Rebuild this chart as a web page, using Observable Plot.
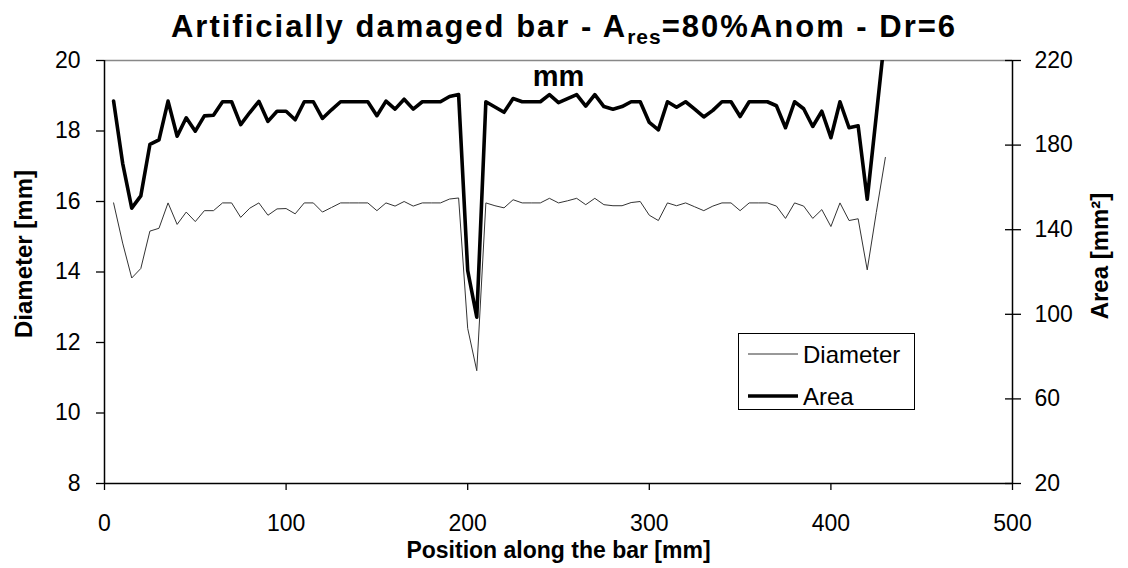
<!DOCTYPE html>
<html><head><meta charset="utf-8">
<script src="https://cdn.jsdelivr.net/npm/d3@7"></script>
<script src="https://cdn.jsdelivr.net/npm/@observablehq/plot@0.6"></script>
<style>
body{margin:0;background:#fff;font-family:"Liberation Sans",Arial,sans-serif;}
#wrap{position:relative;width:1128px;height:568px;overflow:hidden;}
#title{height:44px;line-height:54px;text-align:center;font-weight:bold;font-size:31px;letter-spacing:2px;font-family:"Liberation Sans Narrow","Liberation Sans",Arial,sans-serif;white-space:nowrap;}
#title sub{font-size:21px;vertical-align:-7px;line-height:0;letter-spacing:1px;}
#legend{position:absolute;left:738px;top:333px;width:177px;height:77px;border:1.5px solid #000;background:#fff;box-sizing:border-box;}
#legend svg{position:absolute;left:0;top:0;}
</style></head>
<body>
<div id="wrap">
<div id="title">Artificially damaged bar - A<sub>res</sub>=80%Anom - Dr=6</div>
<div id="chart"></div>
<div id="legend"></div>
</div>
<script>
const position = [5,10,15,20,25,30,35,40,45,50,55,60,65,70,75,80,85,90,95,100,
105,110,115,120,125,130,135,140,145,150,155,160,165,170,175,180,185,190,195,200,
205,210,215,220,225,230,235,240,245,250,255,260,265,270,275,280,285,290,295,300,
305,310,315,320,325,330,335,340,345,350,355,360,365,370,375,380,385,390,395,400,
405,410,415,420,425,430];
const diameter = [15.96,14.82,13.83,14.10,15.16,15.24,15.96,15.35,15.70,15.43,15.74,15.74,15.96,15.96,15.55,15.81,15.96,15.61,15.79,15.80,
15.65,15.96,15.96,15.70,15.83,15.96,15.96,15.96,15.96,15.74,15.96,15.87,16.00,15.87,15.96,15.96,15.96,16.07,16.10,12.40,
11.20,15.96,15.88,15.82,16.05,15.96,15.96,15.96,16.09,15.96,16.02,16.09,15.91,16.09,15.91,15.88,15.88,15.97,16.00,15.61,
15.46,15.96,15.88,15.96,15.85,15.74,15.87,15.96,15.96,15.74,15.96,15.96,15.96,15.87,15.52,15.96,15.87,15.52,15.77,15.29,
15.96,15.46,15.51,14.06,15.69,17.25];
const area = [200.8,171.4,150.2,156.0,180.3,182.5,200.8,184.2,192.9,186.6,193.8,194.1,200.5,200.5,189.7,195.4,200.7,191.2,196.0,196.0,
192.0,200.5,200.5,192.6,196.7,200.5,200.5,200.5,200.5,193.9,200.8,197.0,201.7,197.0,200.5,200.5,200.5,203.0,203.9,120.7,
98.6,200.5,198.0,195.5,202.0,200.5,200.5,200.5,203.9,200.1,202.0,203.9,198.4,203.9,198.2,197.0,198.2,200.5,200.5,190.7,
187.2,200.5,197.9,200.5,197.0,193.3,196.4,200.5,200.5,193.5,200.5,200.5,200.5,198.6,188.2,200.5,197.2,188.8,196.0,183.5,
200.5,188.2,189.1,154.4,194.0,234.0];
const xTicks = [0,100,200,300,400,500];
const diameterTicks = [8,10,12,14,16,18,20];
const areaTicks = [20,60,100,140,180,220];
const seriesNames = ["Diameter","Area"];
const notes = [{x:250, y:19.55, text:"mm"}];

// area axis is linearly mapped onto the diameter axis (20..220 <-> 8..20)
const toD = a => 8 + (a - 20) * 12 / 200;
const fromD = d => Math.round(20 + (d - 8) * 200 / 12);
const rows = position.map((p, i) => ({p, d: diameter[i], a: area[i]}));

const chart = Plot.plot({
  width: 1128, height: 524,
  marginTop: 16, marginBottom: 85, marginLeft: 104, marginRight: 116,
  style: {fontFamily: "Liberation Sans, Arial, sans-serif", fontSize: "23px", color: "#000", background: "#fff", overflow: "visible"},
  x: {domain: [0, 500]},
  y: {domain: [8, 20]},
  marks: [
    Plot.ruleY([20], {stroke: "#888", strokeWidth: 1.5}),
    Plot.axisX(xTicks, {tickSize: 7, tickPadding: 24, label: null, strokeWidth: 1.3}),
    Plot.axisY(diameterTicks, {tickSize: 8, tickPadding: 16, label: null, strokeWidth: 1.3}),
    Plot.axisY(areaTicks.map(toD), {anchor: "right", tickSize: 16, tickPadding: 14, dx: -8, tickFormat: fromD, label: null, strokeWidth: 1.3}),
    Plot.ruleY([8], {stroke: "#000", strokeWidth: 1.5}),
    Plot.ruleX([0], {stroke: "#000", strokeWidth: 1.5}),
    Plot.ruleX([500], {stroke: "#000", strokeWidth: 1.5}),
    Plot.line(rows, {x: "p", y: "d", stroke: "#333", strokeWidth: 1}),
    Plot.line(rows, {x: "p", y: r => toD(r.a), stroke: "#000", strokeWidth: 3.6, clip: true}),
    Plot.text(notes, {x: "x", y: "y", text: "text", fontSize: 29, fontWeight: "bold"}),
    Plot.text(["Diameter [mm]"], {frameAnchor: "left", textAnchor: "middle", lineAnchor: "middle", dx: -80, dy: -18, rotate: -90, fontSize: 24, fontWeight: "bold"}),
    Plot.text(["Area [mm²]"], {frameAnchor: "right", textAnchor: "middle", lineAnchor: "middle", dx: 88, dy: -16, rotate: -90, fontSize: 24, fontWeight: "bold"}),
    Plot.text(["Position along the bar [mm]"], {frameAnchor: "bottom", textAnchor: "middle", lineAnchor: "middle", dy: 67, fontSize: 23, fontWeight: "bold"})
  ]
});
document.getElementById("chart").appendChild(chart);

// legend
const lg = d3.select("#legend").append("svg").attr("width", 177).attr("height", 77);
const items = [{name: seriesNames[0], w: 1, c: "#333", y: 20}, {name: seriesNames[1], w: 3.6, c: "#000", y: 62}];
items.forEach(it => {
  lg.append("line").attr("x1", 9).attr("x2", 59).attr("y1", it.y).attr("y2", it.y).attr("stroke", it.c).attr("stroke-width", it.w);
  lg.append("text").attr("x", 64).attr("y", it.y).attr("dy", "0.36em").attr("font-size", 24).attr("font-family", "Liberation Sans, Arial, sans-serif").text(it.name);
});
</script>
</body></html>
